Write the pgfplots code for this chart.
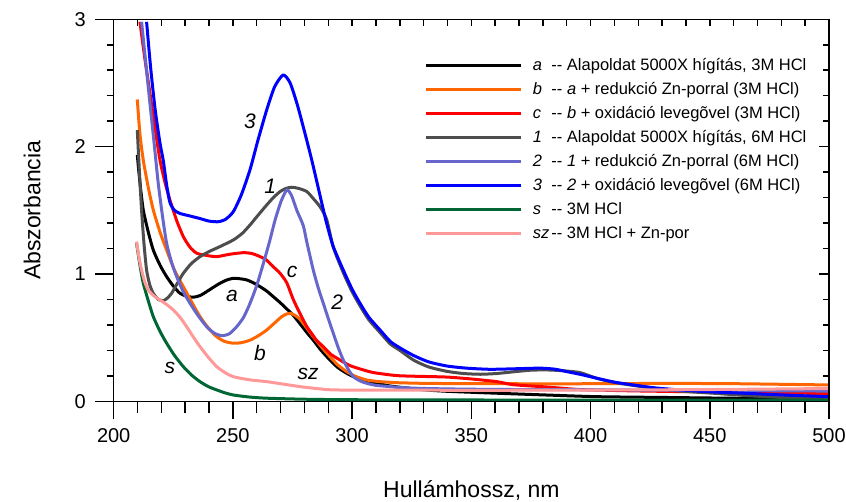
\documentclass[border=0pt]{standalone}
\usepackage{fontspec}
\setmainfont{Liberation Sans}
\usepackage{pgfplots}
\pgfplotsset{compat=1.18}

\definecolor{cA}{HTML}{000000}
\definecolor{cB}{HTML}{FF6600}
\definecolor{cC}{HTML}{FF0000}
\definecolor{cOne}{HTML}{4D4D4D}
\definecolor{cTwo}{HTML}{6666CC}
\definecolor{cThree}{HTML}{0000FF}
\definecolor{cS}{HTML}{006633}
\definecolor{cSZ}{HTML}{FF9999}

% two separate hyphens, no en dash ligature
\newcommand\dd{\mbox{-}\mbox{-}}
\newcommand\lk[1]{\makebox[9.3bp][l]{\textit{#1}}}

\pgfplotsset{
  specframe/.style={
    scale only axis, width=357.7bp, height=191bp,
    xmin=200, xmax=500, ymin=0, ymax=3,
    axis line style={line width=0.75bp},
    tick style={line width=0.75bp, black},
  },
  spec/.style={line width=1.5bp, smooth, tension=0.4, line join=round},
}

\begin{document}
\begin{tikzpicture}
\begin{axis}[specframe,
  xtick={200,250,...,500}, ytick={0,1,2,3},
  tick align=outside, major tick length=9bp,
  tick style={draw=none},
  /pgf/number format/assume math mode=true,
  ticklabel style={font=\fontsize{10bp}{12bp}\selectfont},
  xticklabel style={yshift=-1bp},
  yticklabel style={xshift=-1.5bp},
  xlabel={Hullámhossz, nm},
  ylabel={Abszorbancia},
  label style={font=\fontsize{11.5bp}{13bp}\selectfont},
  xlabel style={at={(axis description cs:0.5,0)}, anchor=center, yshift=-44.5bp},
  ylabel style={at={(axis description cs:0,0.5)}, anchor=center, yshift=40.8bp},
  legend cell align=left,
  legend image code/.code={\draw[#1, line width=1.5bp] (0bp,0bp) -- (47.5bp,0bp);},
  legend style={draw=none, fill=none, at={(rel axis cs:0.435,0.899)}, anchor=north west,
    inner sep=0pt, outer sep=0pt, row sep=4.1bp,
    font=\fontsize{8.25bp}{10bp}\selectfont,
    nodes={inner sep=0pt, text height=6.2bp, text depth=1.7bp},
    /tikz/every odd column/.append style={column sep=5bp}},
]
\coordinate (ll) at (rel axis cs:0,0);
\coordinate (ur) at (rel axis cs:1,1);

% a -- stock solution, 3M HCl
\addplot[spec, cA] coordinates {
(209.9,1.935) (211,1.72) (212.4,1.503) (214.5,1.33) (216.6,1.188) (219.4,1.07)
(222.2,0.979) (225,0.905) (227.8,0.848) (230.6,0.825) (233.4,0.817) (236.2,0.83)
(239.0,0.861) (241.8,0.895) (244.6,0.927) (247.4,0.952) (250.2,0.966) (253,0.962)
(255.8,0.953) (258.6,0.93) (261.4,0.90) (264.2,0.865) (266.9,0.822) (269.8,0.775)
(272.6,0.725) (275.3,0.675) (278.1,0.61) (281,0.54) (283.7,0.48) (287,0.40)
(290.7,0.324) (294,0.265) (297.7,0.22) (301.5,0.185) (306.1,0.154) (311.7,0.135)
(315.9,0.12) (320.1,0.11) (330,0.09) (340,0.078) (360.7,0.063) (380,0.05)
(402.6,0.036) (430,0.03) (458.5,0.024) (500,0.017)};
\addlegendentry{\lk{a}\dd\ Alapoldat 5000X hígítás, 3M HCl}

% b -- reduced with Zn powder, 3M HCl
\addplot[spec, cB] coordinates {
(209.9,2.37) (211,2.10) (212.4,1.895) (214.5,1.68) (216.6,1.503) (219.4,1.33)
(222.2,1.188) (225.5,1.03) (229.2,0.90) (232.7,0.78) (236.2,0.665) (239.7,0.575)
(243.2,0.507) (246.5,0.47) (250.2,0.456) (253.5,0.46) (257.2,0.48) (260.7,0.515)
(264.2,0.56) (267.5,0.615) (270.5,0.665) (272.5,0.685) (274.2,0.69) (276,0.675)
(278.1,0.645) (280.8,0.58) (283.7,0.507) (287,0.43) (290.7,0.35) (294,0.285)
(297.7,0.233) (301.5,0.195) (306.1,0.167) (311,0.155) (315.9,0.149) (320,0.145)
(332.7,0.14) (360,0.138) (388.6,0.137) (430,0.14) (460,0.138) (500,0.128)};
\addlegendentry{\lk{b}\dd\ \textit{a} + redukció Zn-porral (3M HCl)}

% c -- reoxidised in air, 3M HCl
\addplot[spec, cC] coordinates {
(211.0,2.98) (213,2.70) (215.2,2.42) (217.3,2.15) (219.4,1.895) (221.5,1.72)
(223.6,1.58) (226.4,1.42) (229.2,1.293) (232,1.21) (234.8,1.163) (239,1.145)
(243.2,1.136) (248.8,1.155) (254.4,1.167) (258,1.16) (261.4,1.136) (264,1.11)
(266.9,1.057) (269.8,1.005) (272.6,0.93) (275.3,0.80) (278.1,0.69) (281.0,0.586)
(283.5,0.52) (285,0.48) (287.9,0.429) (291,0.37) (294.9,0.324) (299.1,0.28)
(304.7,0.246) (309,0.225) (315.9,0.207) (320,0.2) (327.1,0.196) (339.7,0.19)
(350,0.175) (360.7,0.154) (367.6,0.13) (381.6,0.112) (395.6,0.092) (416.6,0.082)
(437.5,0.076) (458.5,0.072) (480,0.066) (500,0.06)};
\addlegendentry{\lk{c}\dd\ \textit{b} + oxidáció levegõvel (3M HCl)}

% 1 -- stock solution, 6M HCl
\addplot[spec, cOne] coordinates {
(209.9,2.13) (210.8,1.80) (211.7,1.50) (212.7,1.24) (213.8,1.03) (215.2,0.91)
(216.6,0.848) (218.7,0.80) (220.8,0.79) (222.5,0.81) (224.3,0.848) (226.5,0.92)
(229.2,1.005) (232.5,1.08) (236.2,1.136) (240.5,1.18) (244.6,1.215) (250.2,1.267)
(254,1.32) (257.2,1.385) (260.5,1.46) (264.2,1.542) (267,1.60) (269.8,1.647)
(272.3,1.672) (274.7,1.681) (277.5,1.672) (281.0,1.647) (283.8,1.59) (286.5,1.529)
(289.3,1.43) (292.1,1.21) (296.3,1.01) (300,0.86) (303.3,0.75) (307,0.64)
(311.7,0.54) (316,0.45) (320,0.40) (325.7,0.324) (332,0.27) (339.7,0.235)
(346.6,0.218) (353.7,0.212) (360.7,0.218) (368,0.232) (375,0.244) (381.6,0.246)
(388,0.24) (395.6,0.225) (402.6,0.18) (410,0.148) (418,0.124) (423.6,0.11)
(437.5,0.08) (451.5,0.063) (465,0.045) (480,0.03) (499.5,0.02)};
\addlegendentry{\lk{1}\dd\ Alapoldat 5000X hígítás, 6M HCl}

% 2 -- reduced with Zn powder, 6M HCl
\addplot[spec, cTwo] coordinates {
(211.7,2.98) (213.5,2.65) (215.2,2.34) (217,2.02) (218.7,1.71) (220.5,1.45)
(222.2,1.241) (224.3,1.09) (226.4,0.979) (229.2,0.86) (232.0,0.770) (235.5,0.67)
(239.0,0.586) (242.2,0.535) (245.3,0.515) (248.5,0.53) (251.6,0.586) (254.5,0.66)
(257.2,0.770) (260,0.91) (262.8,1.084) (265.3,1.25) (267.7,1.424) (270.2,1.57)
(272.6,1.66) (274.5,1.62) (276.8,1.50) (279.5,1.38) (281.0,1.25) (283.7,1.031)
(285.8,0.89) (287.9,0.77) (290,0.65) (292.1,0.534) (294.2,0.42) (296.3,0.324)
(298.4,0.25) (300.5,0.193) (303.3,0.16) (306.1,0.141) (310,0.125) (315.9,0.115)
(320.1,0.108) (327.1,0.102) (340,0.097) (360,0.093) (400,0.09) (450,0.085) (500,0.08)};
\addlegendentry{\lk{2}\dd\ \textit{1} + redukció Zn-porral (6M HCl)}

% 3 -- reoxidised in air, 6M HCl
\addplot[spec, cThree] coordinates {
(213.8,2.98) (215.5,2.62) (217.4,2.29) (219.4,2.03) (220.8,1.89) (222.2,1.70)
(223.6,1.56) (225.5,1.50) (227.8,1.475) (232,1.455) (236.2,1.435) (240,1.415)
(243.9,1.41) (247,1.43) (250.2,1.49) (253.5,1.62) (257.2,1.82) (260.5,2.05)
(264.2,2.29) (267.5,2.47) (271.1,2.563) (274,2.50) (277,2.33) (280,2.12)
(283,1.90) (286,1.66) (289,1.42) (292,1.22) (296.3,1.03) (300,0.88)
(303.3,0.77) (307,0.66) (311.7,0.56) (316,0.47) (320,0.42) (325.7,0.36)
(332,0.31) (339.7,0.277) (348,0.26) (357.8,0.251) (368,0.255) (378.8,0.26)
(385,0.252) (390,0.233) (396,0.21) (402.6,0.181) (410,0.15) (418,0.128)
(427,0.105) (437.5,0.089) (450,0.074) (465.5,0.062) (480,0.05) (499.5,0.036)};
\addlegendentry{\lk{3}\dd\ \textit{2} + oxidáció levegõvel (6M HCl)}

% s -- 3M HCl blank
\addplot[spec, cS] coordinates {
(209.6,1.24) (211,1.07) (212.4,0.927) (214.5,0.79) (216.6,0.665) (219.4,0.55)
(222.2,0.456) (225.5,0.36) (229.2,0.272) (232.7,0.205) (236.2,0.154) (239.7,0.115)
(243.2,0.089) (246.7,0.066) (250.2,0.049) (257,0.033) (264.2,0.024) (280,0.016)
(300,0.012) (350,0.01) (400,0.009) (500,0.008)};
\addlegendentry{\lk{s}\dd\ 3M HCl}

% sz -- 3M HCl with Zn powder
\addplot[spec, cSZ] coordinates {
(209.6,1.254) (210.6,1.13) (211.7,1.03) (213,0.94) (214.5,0.874) (217,0.825)
(219.4,0.796) (222.2,0.76) (225.0,0.717) (227.8,0.66) (230.6,0.586) (233.4,0.505)
(236.2,0.429) (239.7,0.345) (243.2,0.272) (246.7,0.225) (250.2,0.193) (257,0.168)
(264.2,0.154) (271,0.135) (278.1,0.115) (285,0.10) (292.1,0.089) (310,0.088)
(350,0.086) (400,0.088) (450,0.092) (500,0.1)};
\addlegendentry{\lk{sz}\dd\ 3M HCl + Zn-por}

% curve captions
\begin{scope}[every node/.style={font=\itshape\fontsize{10.5bp}{12bp}\selectfont, inner sep=0pt}]
\node at (axis cs:257.2,2.202) {3};
\node at (axis cs:265.6,1.691) {1};
\node at (axis cs:249.6,0.828) {a};
\node at (axis cs:274.8,1.016) {c};
\node at (axis cs:293.7,0.78) {2};
\node at (axis cs:261.4,0.38) {b};
\node at (axis cs:223.6,0.262) {s};
\node at (axis cs:281.5,0.215) {sz};
\end{scope}
\end{axis}

% bottom ticks, outward
\begin{axis}[specframe, xtick={200,250,...,500}, minor x tick num=4, ytick=\empty,
  xtick pos=bottom, tick align=outside, major tick length=9bp, minor tick length=6bp,
  xticklabels={}]
\end{axis}
% left ticks, outward
\begin{axis}[specframe, ytick={0,1,2,3}, minor y tick num=4, xtick=\empty,
  ytick pos=left, tick align=outside, major tick length=9.3bp, minor tick length=3.5bp,
  yticklabels={}]
\end{axis}
% top ticks, inward
\begin{axis}[specframe, xtick={200,210,...,500}, ytick=\empty,
  xtick pos=top, tick align=inside, major tick length=3.5bp,
  xticklabels={}]
\end{axis}
% right ticks, inward
\begin{axis}[specframe, ytick={0,1,2,3}, minor y tick num=4, xtick=\empty,
  ytick pos=right, tick align=inside, major tick length=5bp, minor tick length=3bp,
  yticklabels={}]
\end{axis}

\pgfresetboundingbox
\path ([shift={(-56.85bp,-50.35bp)}]ll) rectangle ([shift={(8.5bp,9.65bp)}]ur);
\end{tikzpicture}
\end{document}
